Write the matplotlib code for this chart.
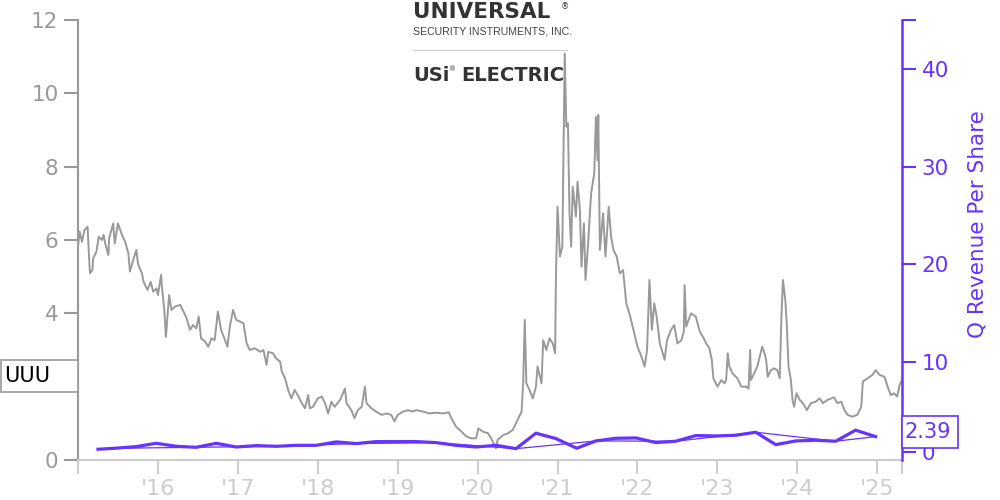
import matplotlib
matplotlib.use('Agg')
import matplotlib.pyplot as plt
from matplotlib.patches import Rectangle

price_t = [2015.00, 2015.02, 2015.05, 2015.08, 2015.12, 2015.14, 2015.15, 2015.18, 2015.19, 2015.23,
           2015.26, 2015.30, 2015.32, 2015.34, 2015.38, 2015.39, 2015.44, 2015.46, 2015.50, 2015.55,
           2015.59, 2015.63, 2015.65, 2015.69, 2015.73, 2015.75, 2015.80, 2015.82, 2015.87, 2015.91,
           2015.94, 2015.98, 2016.00, 2016.04, 2016.05, 2016.08, 2016.10, 2016.14, 2016.17, 2016.21,
           2016.28, 2016.32, 2016.36, 2016.40, 2016.44, 2016.48, 2016.51, 2016.54, 2016.59, 2016.63,
           2016.67, 2016.71, 2016.75, 2016.79, 2016.83, 2016.87, 2016.90, 2016.94, 2016.98, 2017.03,
           2017.07, 2017.11, 2017.15, 2017.21, 2017.28, 2017.32, 2017.36, 2017.38, 2017.44, 2017.48,
           2017.53, 2017.55, 2017.59, 2017.63, 2017.67, 2017.71, 2017.75, 2017.80, 2017.84, 2017.88,
           2017.90, 2017.94, 2018.00, 2018.05, 2018.09, 2018.13, 2018.17, 2018.21, 2018.28, 2018.34,
           2018.36, 2018.42, 2018.46, 2018.50, 2018.55, 2018.59, 2018.61, 2018.67, 2018.73, 2018.80,
           2018.86, 2018.92, 2018.96, 2019.00, 2019.07, 2019.13, 2019.19, 2019.23, 2019.32, 2019.40,
           2019.48, 2019.57, 2019.64, 2019.67, 2019.73, 2019.80, 2019.86, 2019.92, 2019.98, 2020.01,
           2020.07, 2020.13, 2020.17, 2020.23, 2020.25, 2020.32, 2020.38, 2020.44, 2020.49, 2020.55,
           2020.57, 2020.59, 2020.61, 2020.65, 2020.69, 2020.73, 2020.75, 2020.80, 2020.82, 2020.86,
           2020.90, 2020.94, 2020.97, 2020.98, 2021.00, 2021.03, 2021.06, 2021.08, 2021.09, 2021.11,
           2021.13, 2021.15, 2021.17, 2021.19, 2021.23, 2021.25, 2021.28, 2021.30, 2021.33, 2021.35,
           2021.38, 2021.42, 2021.46, 2021.48, 2021.50, 2021.51, 2021.53, 2021.57, 2021.60, 2021.64,
           2021.67, 2021.70, 2021.74, 2021.78, 2021.82, 2021.86, 2021.91, 2021.95, 2022.00, 2022.05,
           2022.09, 2022.12, 2022.15, 2022.18, 2022.21, 2022.24, 2022.28, 2022.34, 2022.37, 2022.42,
           2022.46, 2022.50, 2022.55, 2022.58, 2022.59, 2022.61, 2022.67, 2022.73, 2022.78, 2022.82,
           2022.86, 2022.90, 2022.93, 2022.95, 2023.00, 2023.05, 2023.09, 2023.11, 2023.13, 2023.15,
           2023.19, 2023.25, 2023.30, 2023.36, 2023.39, 2023.41, 2023.42, 2023.46, 2023.50, 2023.53,
           2023.56, 2023.59, 2023.61, 2023.63, 2023.67, 2023.71, 2023.75, 2023.78, 2023.80, 2023.82,
           2023.85, 2023.87, 2023.89, 2023.92, 2023.94, 2023.96, 2023.99, 2024.03, 2024.07, 2024.12,
           2024.17, 2024.23, 2024.28, 2024.32, 2024.38, 2024.46, 2024.50, 2024.55, 2024.59, 2024.63,
           2024.69, 2024.75, 2024.80, 2024.82, 2024.88, 2024.94, 2024.98, 2025.03, 2025.09, 2025.13,
           2025.17, 2025.21, 2025.25, 2025.28, 2025.30]
price_v = [5.82, 6.23, 5.95, 6.27, 6.36, 5.45, 5.09, 5.18, 5.50, 5.68,
           6.09, 6.00, 6.14, 5.91, 5.59, 6.05, 6.45, 5.91, 6.45, 6.14,
           5.95, 5.64, 5.14, 5.45, 5.73, 5.36, 5.09, 4.86, 4.64, 4.86,
           4.59, 4.68, 4.50, 5.05, 4.73, 4.09, 3.36, 4.50, 4.09, 4.18,
           4.23, 4.05, 3.86, 3.55, 3.68, 3.59, 3.91, 3.32, 3.23, 3.09,
           3.32, 3.27, 4.05, 3.55, 3.32, 3.09, 3.64, 4.09, 3.82, 3.77,
           3.73, 3.18, 3.00, 3.05, 2.95, 3.00, 2.59, 2.95, 2.91, 2.77,
           2.68, 2.41, 2.23, 1.91, 1.68, 1.91, 1.77, 1.55, 1.41, 1.77,
           1.41, 1.45, 1.68, 1.73, 1.55, 1.27, 1.59, 1.45, 1.64, 1.95,
           1.55, 1.36, 1.14, 1.36, 1.45, 2.00, 1.55, 1.41, 1.32, 1.23,
           1.27, 1.23, 1.05, 1.23, 1.32, 1.36, 1.32, 1.36, 1.32, 1.27,
           1.29, 1.27, 1.30, 1.14, 0.91, 0.77, 0.64, 0.59, 0.59, 0.86,
           0.77, 0.73, 0.59, 0.32, 0.55, 0.68, 0.73, 0.82, 1.05, 1.32,
           2.09, 3.82, 2.09, 1.91, 1.68, 2.00, 2.55, 2.09, 3.27, 3.00,
           3.32, 3.18, 2.91, 5.00, 6.91, 5.55, 5.82, 9.36, 11.09, 9.09,
           9.18, 6.73, 5.82, 7.45, 6.64, 7.59, 6.82, 5.27, 6.45, 4.91,
           5.82, 7.27, 7.82, 9.36, 8.18, 9.41, 5.73, 6.73, 5.55, 6.91,
           6.09, 5.73, 5.55, 5.09, 5.18, 4.27, 3.91, 3.55, 3.09, 2.82,
           2.55, 3.00, 4.91, 3.55, 4.27, 3.91, 3.18, 2.73, 3.27, 3.55,
           3.68, 3.18, 3.27, 3.50, 4.77, 3.64, 4.00, 3.91, 3.50, 3.36,
           3.18, 3.05, 2.73, 2.23, 2.00, 2.18, 2.09, 2.18, 2.91, 2.55,
           2.36, 2.23, 2.00, 2.00, 1.95, 3.00, 2.18, 2.36, 2.55, 2.82,
           3.09, 2.91, 2.73, 2.27, 2.45, 2.50, 2.45, 2.23, 3.82, 4.91,
           4.36, 3.64, 2.55, 2.18, 1.64, 1.45, 1.82, 1.64, 1.55, 1.36,
           1.55, 1.59, 1.68, 1.55, 1.64, 1.71, 1.55, 1.59, 1.36, 1.23,
           1.18, 1.23, 1.45, 2.14, 2.23, 2.32, 2.45, 2.32, 2.27, 2.00,
           1.77, 1.82, 1.73, 2.05, 2.14]

# quarterly revenue per share (purple)
rev_t = [2015.25, 2015.46, 2015.73, 2015.98, 2016.23, 2016.48, 2016.73, 2016.98,
         2017.23, 2017.48, 2017.73, 2017.98, 2018.23, 2018.48, 2018.73, 2018.98,
         2019.23, 2019.48, 2019.73, 2019.98, 2020.23, 2020.48, 2020.73, 2020.98,
         2021.24, 2021.48, 2021.73, 2021.98, 2022.23, 2022.48, 2022.73, 2022.98,
         2023.23, 2023.48, 2023.73, 2023.98, 2024.23, 2024.48, 2024.73, 2024.98]
rev_v = [1.10, 1.20, 1.37, 1.71, 1.40, 1.30, 1.71, 1.33,
         1.47, 1.40, 1.50, 1.50, 1.85, 1.68, 1.88, 1.88,
         1.88, 1.78, 1.50, 1.33, 1.50, 1.16, 2.74, 2.19,
         1.20, 1.95, 2.22, 2.26, 1.78, 1.92, 2.50, 2.46,
         2.53, 2.84, 1.57, 1.95, 2.02, 1.92, 3.05, 2.39]

# thin yearly line
yr_t = [2015.25, 2015.46, 2016.48, 2017.48, 2018.48, 2019.48, 2020.48, 2021.48,
        2022.48, 2023.48, 2024.48, 2024.98]
yr_v = [1.10, 1.20, 1.30, 1.40, 1.68, 1.78, 1.16, 1.95, 1.92, 2.84, 1.92, 2.39]

year_ticks = [2015.0, 2016, 2017, 2018, 2019, 2020, 2021, 2022, 2023, 2024, 2025, 2025.31]
year_labels = ['', "'16", "'17", "'18", "'19", "'20", "'21", "'22", "'23", "'24", "'25", '']
price_ticks = [0, 2, 4, 6, 8, 10, 12]
price_labels = ['0', '', '4', '6', '8', '10', '12']
rev_ticks = [0.8, 10, 20, 30, 40, 45]
rev_labels = ['0', '10', '20', '30', '40', '']

GRAY = '#999999'
LIGHT = '#cccccc'
PURPLE = '#6633ff'
LOGO = '#333333'

fig = plt.figure(figsize=(10, 5), dpi=100)
ax = fig.add_axes([0.078, 0.08, 0.824, 0.88])
ax2 = ax.twinx()

ax.plot(price_t, price_v, color=GRAY, lw=1.4)
ax2.plot(yr_t, yr_v, color=PURPLE, lw=0.9)
ax2.plot(rev_t, rev_v, color=PURPLE, lw=2.3)

ax.set_xlim(2015.0, 2025.31)
ax.set_ylim(0, 12)
ax2.set_ylim(0, 45)

for a in (ax, ax2):
    a.spines['top'].set_visible(False)
ax.spines['right'].set_visible(False)
ax2.spines['left'].set_visible(False)
ax2.spines['bottom'].set_visible(False)
ax.spines['left'].set_color(GRAY)
ax.spines['left'].set_linewidth(1.5)
ax.spines['bottom'].set_color(LIGHT)
ax.spines['bottom'].set_linewidth(1.5)
ax2.spines['right'].set_color(PURPLE)
ax2.spines['right'].set_linewidth(1.8)

ax.set_yticks(price_ticks)
ax.set_yticklabels(price_labels)
ax.tick_params(axis='y', colors=GRAY, labelsize=15.5, length=10, width=1.5, pad=4)
ax.set_xticks(year_ticks)
ax.set_xticklabels(year_labels)
ax.tick_params(axis='x', colors=LIGHT, labelsize=16, length=10, width=1.5, pad=4)

ax2.set_yticks(rev_ticks)
ax2.set_yticklabels(rev_labels)
ax2.tick_params(axis='y', colors=PURPLE, labelsize=15.5, length=10, width=1.5, pad=4)
ax2.set_ylabel('Q Revenue Per Share', color=PURPLE, fontsize=15.5)
ax2.yaxis.set_label_coords(1.080, 0.536)

# ticker label box on the left axis
fig.add_artist(Rectangle((0.0005, 0.216), 0.0775, 0.064, transform=fig.transFigure,
                         fc='white', ec=GRAY, lw=1.2, zorder=5))
fig.text(0.004, 0.248, 'UUU', ha='left', va='center', fontsize=15, color='black', zorder=6)

# last value box on the right axis
fig.add_artist(Rectangle((0.902, 0.104), 0.056, 0.064, transform=fig.transFigure,
                         fc='white', ec=PURPLE, lw=1.2, zorder=5))
fig.text(0.905, 0.136, '2.39', ha='left', va='center', fontsize=15, color=PURPLE, zorder=6)

# company logo as text
fig.text(0.413, 0.997, 'UNIVERSAL', ha='left', va='top', fontsize=15.5, fontweight='heavy', color=LOGO)
fig.text(0.561, 0.996, '®', ha='left', va='top', fontsize=6, color=LOGO)
fig.text(0.413, 0.946, 'SECURITY INSTRUMENTS, INC.', ha='left', va='top', fontsize=7.6,
         family='Liberation Sans', color='#444444')
fig.add_artist(plt.Line2D([0.413, 0.567], [0.90, 0.90], color='#cccccc', lw=0.8))
fig.text(0.413, 0.868, 'USi', ha='left', va='top', fontsize=14, fontweight='heavy', color=LOGO)
fig.text(0.449, 0.868, '®', ha='left', va='top', fontsize=5, color=LOGO)
fig.text(0.461, 0.868, 'ELECTRIC', ha='left', va='top', fontsize=14, fontweight='heavy', color=LOGO)

fig.savefig('out.png', dpi=100)
